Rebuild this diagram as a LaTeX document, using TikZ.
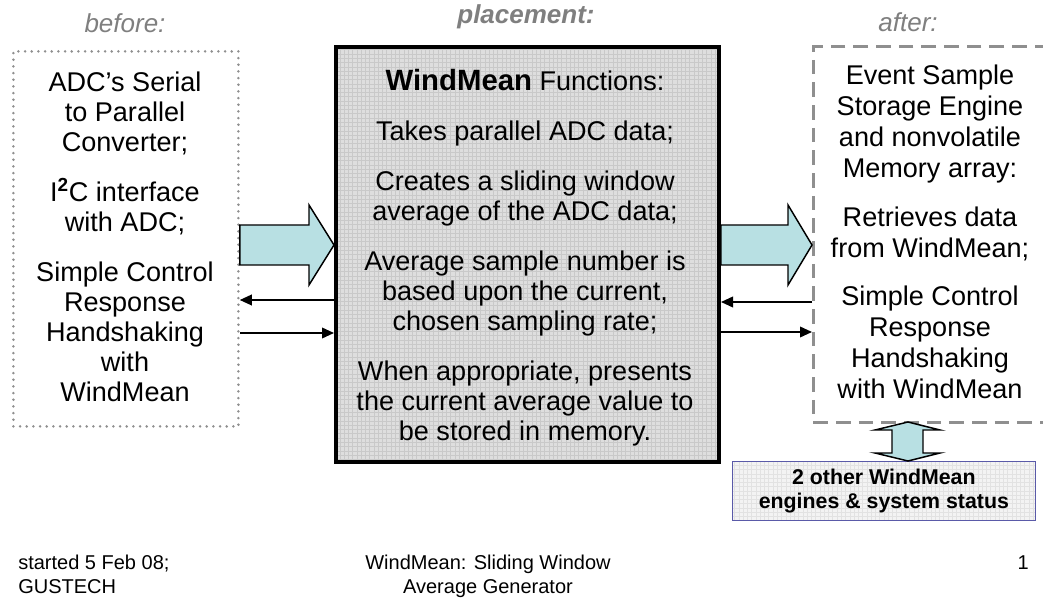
\documentclass[tikz,border=0pt]{standalone}
\usepackage{fontspec}
\setmainfont{Liberation Sans}
\usetikzlibrary{arrows.meta,calc}
\definecolor{arrowcyan}{HTML}{B8E0E3}
\definecolor{titlegray}{HTML}{7F7F7F}
\definecolor{boxgray}{HTML}{DEDEDE}
\definecolor{gridgray}{HTML}{C9C9C9}
\definecolor{dotgray}{HTML}{8F8F8F}
\definecolor{lightbox}{HTML}{F3F3F3}
\definecolor{lightgrid}{HTML}{E2E2E2}
\definecolor{boxblue}{HTML}{5A5AA8}
\begin{document}
\begin{tikzpicture}[x=0.75pt,y=-0.75pt,
  body/.style={font=\fontsize{20.3}{22.5}\selectfont, align=center, inner sep=0pt, anchor=north},
  title/.style={font=\fontsize{19.5}{22.5}\selectfont\itshape, text=titlegray, inner sep=0pt},
  foot/.style={font=\fontsize{15}{17.5}\selectfont, inner sep=0pt, anchor=north},
  dotbox/.style={draw=dotgray, line width=2.1pt, line cap=round, dash pattern=on 0pt off 5pt, inner sep=0pt, anchor=north west},
  dashbox/.style={draw=dotgray, line width=2.2pt, dash pattern=on 11pt off 6pt, inner sep=0pt, anchor=north west},
  gridfill/.style 2 args={fill=#1, path picture={\draw[#2, line width=0.35pt, step=3.2pt] (path picture bounding box.south west) grid (path picture bounding box.north east);}},
  midbox/.style={draw=black, line width=3pt, gridfill={boxgray}{gridgray}, inner sep=0pt, anchor=north west},
  bigarrow/.style={draw=black, line width=1.1pt, fill=arrowcyan, line join=miter},
  sarrow/.style={draw=black, line width=1.2pt, -{Triangle[length=9pt,width=8pt]}}
]
\useasboundingbox (0,0) rectangle (1043,609);

% titles
\node[title] (tbefore) at (125,23) {before:};
\node[title, font=\fontsize{19.5}{22.5}\selectfont\bfseries\itshape] (tplace) at (526,17) {placement:};
\node[title] (tafter) at (908,22) {after:};

% boxes
\node[dotbox, minimum width=168.75pt, minimum height=281.25pt] (before) at (12,50) {};
\node[midbox, minimum width=287.25pt, minimum height=311.25pt] (mid) at (334,45) {};
\node[dashbox, minimum width=177pt, minimum height=282pt] (after) at (812,45) {};

% texts
\node[body] (lefttext) at (125,72) {ADC’s Serial\\to Parallel\\Converter;\\[15pt]
I\textsuperscript{\bfseries 2}C interface\\with ADC;\\[15pt]
Simple Control\\Response\\Handshaking\\with\\WindMean};

\node[body] (midtext) at (525,69) {{\fontsize{22}{22.5}\selectfont\bfseries WindMean} Functions:\\[15pt]
Takes parallel ADC data;\\[15pt]
Creates a sliding window\\average of the ADC data;\\[15pt]
Average sample number is\\based upon the current,\\chosen sampling rate;\\[15pt]
When appropriate, presents\\the current average value to\\be stored in memory.};

\node[body, font=\fontsize{20.3}{23.25}\selectfont] (righttext) at (930,65) {Event Sample\\Storage Engine\\and nonvolatile\\Memory array:\\[13pt]
Retrieves data\\from WindMean;\\[13pt]
Simple Control\\Response\\Handshaking\\with WindMean};

% big arrows
\draw[bigarrow] (before.east |- 0,225) -- (309,225) -- (309,205) -- (mid.west |- 0,245) -- (309,285) -- (309,265) -- (before.east |- 0,265) -- cycle;
\draw[bigarrow] (mid.east |- 0,225) -- (788,225) -- (788,205) -- (after.west |- 0,245) -- (788,285) -- (788,265) -- (mid.east |- 0,265) -- cycle;

% handshake arrows
\draw[sarrow] (mid.west |- 0,300) -- (before.east |- 0,300);
\draw[sarrow] (before.east |- 0,333) -- (mid.west |- 0,333);
\draw[sarrow] (after.west |- 0,302) -- (mid.east |- 0,302);
\draw[sarrow] (mid.east |- 0,332) -- (after.west |- 0,332);

% lower box
\node[draw=boxblue, line width=0.8pt, gridfill={lightbox}{lightgrid}, minimum width=227pt, minimum height=44pt, anchor=north west, inner sep=0pt] (others) at (732,461) {};
\node[font=\fontsize{16}{18.5}\selectfont\bfseries, align=center, inner sep=0pt] (otherstext) at (others.center) {2 other WindMean\\engines \& system status};

% double arrow
\draw[bigarrow] (908,422) -- (940,430) -- (923,430) -- (923,453) -- (940,453) -- (others.north -| 908,0) -- (875,453) -- (892,453) -- (892,430) -- (875,430) -- cycle;

% footer
\node[foot, align=left, anchor=north west] (fleft) at (18,555) {started 5 Feb 08;\\GUSTECH};
\node[foot, align=center] (fmid) at (488,555) {WindMean: Sliding Window\\Average Generator};
\node[foot, anchor=north east] (fright) at (1029,555) {1};
\end{tikzpicture}
\end{document}
